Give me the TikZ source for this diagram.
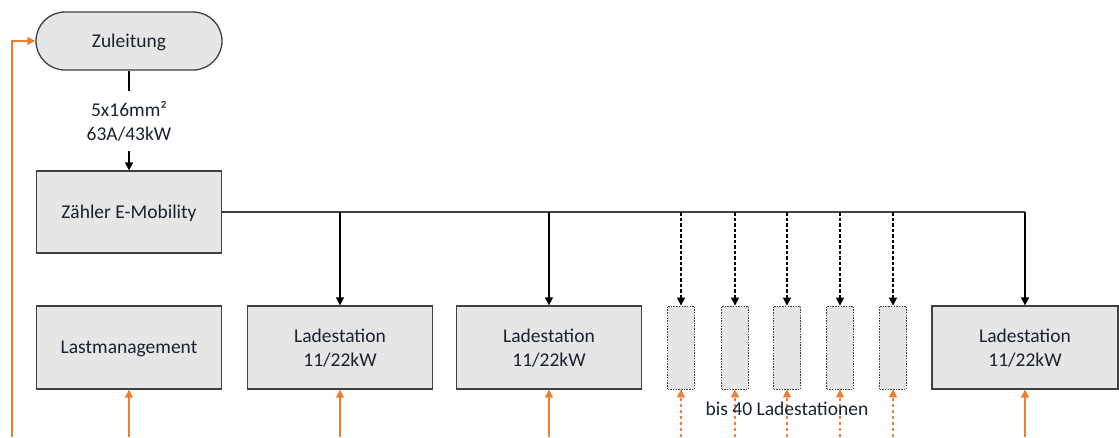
\documentclass[tikz,border=0pt]{standalone}
\usepackage{fontspec}
\setmainfont{Carlito}
\usetikzlibrary{shapes.misc,arrows.meta}
\definecolor{boxfill}{HTML}{E6E6E6}
\definecolor{boxline}{HTML}{404040}
\definecolor{txt}{HTML}{1A2230}
\definecolor{orng}{HTML}{ED7D31}
\tikzset{
  box/.style={draw=boxline, line width=1.3pt, fill=boxfill, text=txt, font=\fontsize{19.5}{23.5}\selectfont, align=center, minimum width=185pt, minimum height=83pt, inner sep=0pt, text depth=0pt},
  smallbox/.style={draw=boxline, line width=0.8pt, dash pattern=on 1.5pt off 1.2pt, fill=boxfill, minimum width=27pt, minimum height=83pt, inner sep=0pt},
  arr/.style={draw=black, line width=1.3pt, -{Triangle[length=8pt,width=8pt]}},
  darr/.style={arr, dash pattern=on 3.5pt off 2pt},
  oarr/.style={draw=orng, line width=1.6pt, -{Triangle[length=8pt,width=8pt]}},
  doarr/.style={oarr, dash pattern=on 3.5pt off 2.5pt},
  lbl/.style={text=txt, font=\fontsize{19.5}{24}\selectfont, inner sep=0pt},
}
\begin{document}
\begin{tikzpicture}[x=1pt,y=-1pt]
\useasboundingbox (0,0) rectangle (1119,437);
\coordinate (bot) at (0,437);
\coordinate (fb) at (12,437);
\node[box, rounded rectangle, minimum width=186pt, minimum height=58pt] (zul) at (129,41) {Zuleitung};
\node[lbl, align=center, minimum height=60pt] (cable) at (129,121) {5x16mm²\\63A/43kW};
\node[box, minimum height=82pt] (zae) at (129,212) {Zähler E-Mobility};
\node[box] (lm) at (129,347.5) {Lastmanagement};
\node[box] (ls1) at (340,347.5) {Ladestation\\11/22kW};
\node[box] (ls2) at (549,347.5) {Ladestation\\11/22kW};
\node[smallbox] (s1) at (681,347.5) {};
\node[smallbox] (s2) at (735,347.5) {};
\node[smallbox] (s3) at (787,347.5) {};
\node[smallbox] (s4) at (840,347.5) {};
\node[smallbox] (s5) at (893,347.5) {};
\node[box, minimum width=186pt] (ls3) at (1025,347.5) {Ladestation\\11/22kW};

\draw[line width=1.3pt, draw=black] (zul.south) -- (cable.north);
\draw[arr] (cable.south) -- (zae.north);
\draw[line width=1.3pt, draw=boxline] (zae.east) -- (zae.east -| ls3.north);
\draw[arr] (zae.east -| ls3.north) -- (ls3.north);
\draw[arr] (zae.east -| ls1.north) -- (ls1.north);
\draw[arr] (zae.east -| ls2.north) -- (ls2.north);
\foreach \n in {s1,s2,s3,s4,s5} {
  \draw[darr] (zae.east -| \n.north) -- (\n.north);
}
\foreach \n in {lm,ls1,ls2,ls3} {
  \draw[oarr] (bot -| \n.south) -- (\n.south);
}
\foreach \n in {s1,s2,s3,s4,s5} {
  \draw[doarr] (bot -| \n.south) -- (\n.south);
}
\node[lbl] (bis) at (787,409) {bis 40 Ladestationen};
\draw[oarr] (fb) |- (zul.west);
\end{tikzpicture}
\end{document}
